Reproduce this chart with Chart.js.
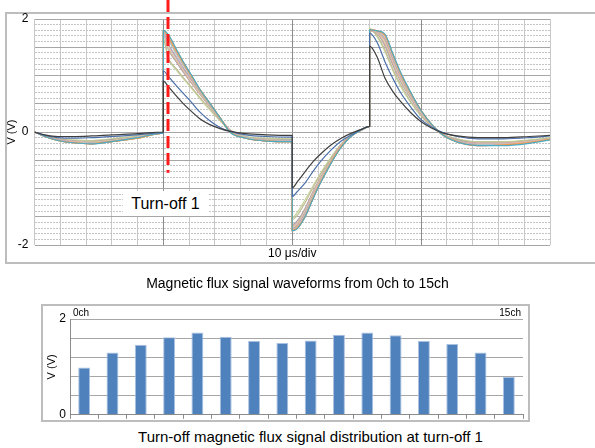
<!DOCTYPE html>
<html>
<head>
<meta charset="utf-8">
<script src="https://cdn.jsdelivr.net/npm/chart.js@4.4.1/dist/chart.umd.min.js"></script>
<style>
  html, body { margin: 0; padding: 0; background: #fff; }
  body { width: 595px; height: 448px; position: relative; overflow: hidden; font-family: "Liberation Sans", Arial, sans-serif; color: #000; }
  .box { position: absolute; border: 2px solid #bdbdbd; box-sizing: border-box; }
  #boxOnda { left: 5px; top: 12px; width: 610px; height: 252px; }
  #boxBarras { left: 41px; top: 304px; width: 489px; height: 118px; }
  canvas { position: absolute; left: 0; }
  #chartOnda { top: 0; }
  #chartBarras { top: 290px; }
  .cap { position: absolute; left: 0; width: 595px; text-align: center; font-size: 14px; line-height: 16px; }
  #turnOff { position: absolute; left: 123px; top: 191px; width: 85px; height: 25px; line-height: 25px; background: #fff; text-align: center; font-size: 16px; }
  .ch { position: absolute; top: 307px; font-size: 10px; line-height: 11px; }
</style>
</head>
<body>
<div class="box" id="boxOnda"></div>
<div class="box" id="boxBarras"></div>
<canvas id="chartOnda" width="595" height="270"></canvas>
<canvas id="chartBarras" width="595" height="136"></canvas>
<div id="turnOff">Turn-off 1</div>
<div class="cap" style="top:275px">Magnetic flux signal waveforms from 0ch to 15ch</div>
<div class="cap" style="top:429px;left:13px;font-size:15px">Turn-off magnetic flux signal distribution at turn-off 1</div>
<div class="ch" style="left:73px">0ch</div>
<div class="ch" style="right:74px">15ch</div>
<script>
// tiempo en µs (10 µs/div); los saltos se repiten en el mismo instante
const tiempos = [0, 4, 9, 15, 22, 30, 40, 50,
  50, 52, 55, 58, 61, 64, 68, 72, 76, 82, 90, 100,
  100, 102, 105, 108, 111, 115, 119, 123, 127, 130,
  130, 133, 136, 139, 142, 146, 150, 154, 158, 164, 172, 182, 192, 200];

const ch0 = [0,-0.06,-0.10,-0.11,-0.10,-0.08,-0.05,-0.01, 1.08,0.98,0.82,0.67,0.52,0.36,0.20,0.08,0.01,-0.05,-0.08,-0.09, -1.14,-1.05,-0.90,-0.70,-0.52,-0.32,-0.16,-0.05,0.05,0.10, 1.75,1.58,1.24,0.95,0.70,0.44,0.22,0.09,0.00,-0.08,-0.12,-0.12,-0.10,-0.07];
const ch1 = [0,-0.07,-0.12,-0.15,-0.16,-0.13,-0.08,-0.02, 1.62,1.30,1.12,0.95,0.79,0.62,0.41,0.21,0.03,-0.08,-0.12,-0.13, -1.55,-1.47,-1.25,-0.99,-0.75,-0.47,-0.22,-0.05,0.05,0.10, 1.80,1.70,1.45,1.12,0.84,0.54,0.29,0.10,-0.03,-0.13,-0.18,-0.18,-0.15,-0.11];
const ch2 = [0,-0.07,-0.13,-0.16,-0.17,-0.14,-0.09,-0.02, 1.72,1.45,1.24,1.04,0.86,0.68,0.45,0.23,0.03,-0.09,-0.13,-0.14, -1.64,-1.57,-1.35,-1.06,-0.80,-0.50,-0.23,-0.06,0.04,0.10, 1.80,1.74,1.52,1.19,0.90,0.59,0.32,0.12,-0.03,-0.14,-0.20,-0.20,-0.16,-0.12];
const ch3 = [0,-0.08,-0.15,-0.18,-0.20,-0.17,-0.11,-0.02, 1.78,1.62,1.38,1.16,0.96,0.75,0.50,0.25,0.01,-0.10,-0.16,-0.17, -1.73,-1.68,-1.47,-1.16,-0.87,-0.55,-0.26,-0.07,0.04,0.10, 1.81,1.78,1.69,1.35,1.02,0.68,0.37,0.14,-0.04,-0.17,-0.23,-0.23,-0.18,-0.13];
const ch4 = [0,-0.08,-0.15,-0.19,-0.21,-0.17,-0.11,-0.02, 1.80,1.71,1.46,1.22,0.99,0.77,0.51,0.25,-0.01,-0.11,-0.16,-0.17, -1.75,-1.70,-1.50,-1.18,-0.89,-0.55,-0.26,-0.07,0.04,0.10, 1.81,1.79,1.72,1.38,1.05,0.69,0.38,0.14,-0.04,-0.18,-0.24,-0.23,-0.19,-0.13];
const ch5 = [0,-0.08,-0.15,-0.19,-0.20,-0.17,-0.11,-0.02, 1.78,1.63,1.39,1.17,0.96,0.75,0.50,0.25,0.01,-0.10,-0.16,-0.17, -1.73,-1.69,-1.48,-1.17,-0.88,-0.55,-0.26,-0.07,0.04,0.10, 1.81,1.78,1.70,1.36,1.03,0.68,0.37,0.14,-0.04,-0.17,-0.23,-0.23,-0.19,-0.13];
const ch6 = [0,-0.08,-0.14,-0.17,-0.19,-0.16,-0.10,-0.02, 1.76,1.53,1.31,1.10,0.91,0.72,0.48,0.24,0.02,-0.10,-0.15,-0.16, -1.70,-1.64,-1.42,-1.12,-0.84,-0.53,-0.24,-0.06,0.04,0.10, 1.81,1.77,1.62,1.28,0.97,0.64,0.35,0.13,-0.03,-0.16,-0.21,-0.21,-0.17,-0.12];
const ch7 = [0,-0.07,-0.14,-0.17,-0.18,-0.15,-0.09,-0.02, 1.75,1.49,1.28,1.08,0.89,0.70,0.47,0.24,0.02,-0.09,-0.14,-0.15, -1.68,-1.62,-1.40,-1.10,-0.83,-0.52,-0.24,-0.06,0.04,0.10, 1.81,1.76,1.58,1.25,0.94,0.62,0.34,0.13,-0.03,-0.15,-0.21,-0.21,-0.17,-0.12];
const ch8 = [0,-0.08,-0.14,-0.18,-0.19,-0.16,-0.10,-0.02, 1.77,1.55,1.33,1.12,0.93,0.73,0.49,0.25,0.02,-0.10,-0.15,-0.16, -1.71,-1.66,-1.44,-1.14,-0.86,-0.54,-0.25,-0.06,0.04,0.10, 1.81,1.78,1.65,1.31,0.99,0.66,0.36,0.14,-0.03,-0.16,-0.22,-0.22,-0.18,-0.13];
const ch9 = [0,-0.08,-0.15,-0.19,-0.21,-0.17,-0.11,-0.02, 1.79,1.67,1.43,1.20,0.98,0.76,0.51,0.25,0.00,-0.11,-0.16,-0.17, -1.74,-1.70,-1.49,-1.18,-0.89,-0.55,-0.26,-0.07,0.04,0.10, 1.81,1.79,1.71,1.37,1.04,0.69,0.38,0.14,-0.04,-0.17,-0.24,-0.23,-0.19,-0.13];
const ch10 = [0,-0.08,-0.15,-0.19,-0.21,-0.17,-0.10,-0.02, 1.80,1.72,1.47,1.22,1.00,0.77,0.51,0.25,-0.01,-0.11,-0.16,-0.17, -1.75,-1.71,-1.50,-1.19,-0.90,-0.56,-0.27,-0.07,0.04,0.10, 1.81,1.79,1.73,1.39,1.06,0.70,0.38,0.14,-0.04,-0.18,-0.24,-0.24,-0.20,-0.14];
const ch11 = [0,-0.08,-0.15,-0.19,-0.21,-0.17,-0.11,-0.02, 1.79,1.66,1.42,1.19,0.97,0.76,0.51,0.25,0.00,-0.11,-0.16,-0.17, -1.74,-1.69,-1.49,-1.18,-0.89,-0.55,-0.26,-0.07,0.04,0.10, 1.81,1.79,1.71,1.37,1.04,0.69,0.38,0.14,-0.04,-0.17,-0.24,-0.23,-0.19,-0.13];
const ch12 = [0,-0.08,-0.14,-0.18,-0.19,-0.16,-0.10,-0.02, 1.76,1.54,1.32,1.11,0.92,0.72,0.48,0.24,0.02,-0.10,-0.15,-0.16, -1.70,-1.65,-1.43,-1.13,-0.85,-0.53,-0.25,-0.06,0.04,0.10, 1.81,1.77,1.63,1.29,0.98,0.65,0.36,0.14,-0.03,-0.16,-0.22,-0.22,-0.18,-0.12];
const ch13 = [0,-0.07,-0.13,-0.16,-0.18,-0.15,-0.09,-0.02, 1.74,1.47,1.26,1.06,0.87,0.69,0.46,0.23,0.02,-0.09,-0.14,-0.15, -1.66,-1.60,-1.38,-1.08,-0.82,-0.51,-0.23,-0.06,0.04,0.10, 1.80,1.75,1.55,1.22,0.92,0.61,0.33,0.12,-0.03,-0.15,-0.20,-0.20,-0.17,-0.12];
const ch14 = [0,-0.07,-0.12,-0.14,-0.15,-0.12,-0.07,-0.02, 1.66,1.29,1.10,0.93,0.77,0.60,0.39,0.20,0.03,-0.08,-0.11,-0.12, -1.52,-1.42,-1.20,-0.96,-0.73,-0.45,-0.21,-0.05,0.05,0.10, 1.84,1.68,1.42,1.09,0.81,0.52,0.28,0.10,-0.03,-0.12,-0.17,-0.17,-0.14,-0.10];
const ch15 = [0,-0.05,-0.08,-0.08,-0.07,-0.05,-0.03,0.00, 0.90,0.80,0.64,0.49,0.36,0.24,0.13,0.06,0.01,-0.03,-0.05,-0.06, -0.99,-0.88,-0.70,-0.53,-0.39,-0.23,-0.11,-0.02,0.05,0.10, 1.52,1.32,0.95,0.72,0.54,0.34,0.18,0.07,-0.01,-0.07,-0.10,-0.10,-0.08,-0.06];

const canales = [ch0, ch1, ch2, ch3, ch4, ch5, ch6, ch7, ch8, ch9, ch10, ch11, ch12, ch13, ch14, ch15];
const coloresCanal = ['#4a6ea8', '#c4bd97', '#a5a5a5', '#fac090', '#f79646', '#93cddd', '#e6b9b8', '#d7d0a8',
  '#b7a8cc', '#e8a070', '#4bacc6', '#f0a868', '#cdb48a', '#d9a3a1', '#c3d69b', '#3f3f3f'];
// el primero se dibuja arriba
const ordenDibujo = [15, 0, 10, 4, 9, 11, 5, 3, 8, 12, 6, 7, 13, 2, 1, 14];

const turnOffTime = 51.8;   // µs, línea roja
const markerBottom = -0.72; // V, donde termina la línea roja

// barras: valor de cada canal en turn-off 1
const etiquetasCanal = ['0ch','1ch','2ch','3ch','4ch','5ch','6ch','7ch','8ch','9ch','10ch','11ch','12ch','13ch','14ch','15ch'];
const valoresTurnOff = [0.99, 1.30, 1.46, 1.62, 1.72, 1.63, 1.54, 1.50, 1.55, 1.67, 1.72, 1.66, 1.54, 1.48, 1.30, 0.79];

Chart.defaults.font.family = 'Liberation Sans, Arial, sans-serif';
Chart.defaults.color = '#000';

const esMultiplo = (v, paso) => Math.abs(Math.round(v / paso) * paso - v) < 1e-6;

const lineaRoja = {
  id: 'lineaRoja',
  afterDatasetsDraw(chart) {
    const {ctx, scales: {x, y}} = chart;
    const px = Math.round(x.getPixelForValue(turnOffTime));
    ctx.save();
    ctx.strokeStyle = '#ff1a1a';
    ctx.lineWidth = 3;
    ctx.setLineDash([12, 5]);
    ctx.beginPath();
    ctx.moveTo(px, 0);
    ctx.lineTo(px, y.getPixelForValue(markerBottom));
    ctx.stroke();
    ctx.restore();
  }
};

const datasetsOnda = ordenDibujo.map(i => ({
  label: etiquetasCanal[i],
  data: tiempos.map((t, k) => ({x: t, y: canales[i][k]})),
  borderColor: coloresCanal[i],
  borderWidth: 1.2,
  pointRadius: 0,
  fill: false,
  cubicInterpolationMode: 'monotone'
}));

new Chart(document.getElementById('chartOnda'), {
  type: 'line',
  data: { datasets: datasetsOnda },
  plugins: [lineaRoja],
  options: {
    responsive: false,
    animation: false,
    layout: { padding: { left: 0, top: 19, right: 45, bottom: 0 } },
    plugins: { legend: { display: false }, tooltip: { enabled: false } },
    scales: {
      x: {
        type: 'linear', min: 0, max: 200,
        ticks: { stepSize: 10, display: false },
        grid: { color: c => esMultiplo(c.tick.value, 50) && c.tick.value > 0 && c.tick.value < 200 ? '#8c8c8c' : '#c8c8c8', drawTicks: false },
        border: { display: false },
        title: { display: true, text: '10 μs/div', font: { size: 12 }, padding: { top: 0, bottom: 9 } },
        afterFit: s => { s.height = 25; }
      },
      yMenor: {
        type: 'linear', position: 'left', min: -2, max: 2,
        ticks: { stepSize: 0.1, display: false, maxTicksLimit: 100 },
        grid: { color: c => esMultiplo(c.tick.value, 0.5) ? 'rgba(0,0,0,0)' : '#c4c4c4', drawTicks: false },
        border: { display: false, dash: [2, 1] },
        afterFit: s => { s.width = 0; }
      },
      y: {
        type: 'linear', position: 'left', min: -2, max: 2,
        ticks: { stepSize: 0.5, padding: 6, font: { size: 12 },
          callback: v => (esMultiplo(v, 2) ? String(Math.round(v)) : '') },
        grid: { color: '#a6a6a6', drawTicks: false },
        border: { display: false },
        title: { display: true, text: 'V (V)', font: { size: 11 }, padding: { top: 5, bottom: 0 } },
        afterFit: s => { s.width = 34.5; }
      }
    }
  }
});

// el eje y reserva media etiqueta + padding abajo (11.2 px), por eso el canvas mide 136
new Chart(document.getElementById('chartBarras'), {
  type: 'bar',
  data: {
    labels: etiquetasCanal,
    datasets: [{
      data: valoresTurnOff,
      backgroundColor: '#4f81bd',
      borderColor: '#a9c1e0',
      borderWidth: 1,
      categoryPercentage: 1,
      barPercentage: 0.42
    }]
  },
  options: {
    responsive: false,
    animation: false,
    layout: { padding: { left: 40, top: 29, right: 72, bottom: 0 } },
    plugins: { legend: { display: false }, tooltip: { enabled: false } },
    scales: {
      x: {
        ticks: { display: false },
        grid: { offset: true, drawOnChartArea: false, tickLength: 4, color: '#8c8c8c' },
        border: { color: '#8c8c8c' },
        afterFit: s => { s.height = 6; }
      },
      y: {
        min: 0, max: 2,
        ticks: { stepSize: 0.2, padding: 4, font: { size: 12 },
          callback: v => (esMultiplo(v, 2) ? String(Math.round(v)) : '') },
        grid: { color: '#a6a6a6', drawTicks: false },
        border: { color: '#8c8c8c' },
        title: { display: true, text: 'V (V)', font: { size: 11 }, padding: { top: 5, bottom: 0 } },
        afterFit: s => { s.width = 30; }
      }
    }
  }
});
</script>
</body>
</html>
